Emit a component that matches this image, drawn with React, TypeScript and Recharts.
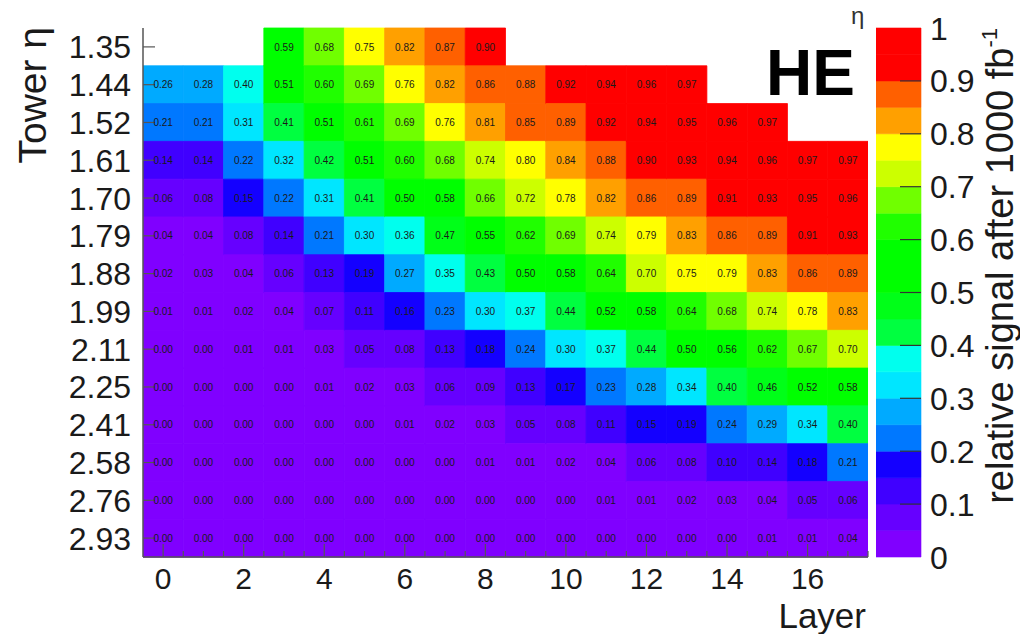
import { Bar, BarChart, Cell, LabelList, XAxis, YAxis } from "recharts";

// tower eta rows, top to bottom
const towerEta = ["1.35", "1.44", "1.52", "1.61", "1.70", "1.79", "1.88", "1.99", "2.11", "2.25", "2.41", "2.58", "2.76", "2.93"];
const layers = [0, 1, 2, 3, 4, 5, 6, 7, 8, 9, 10, 11, 12, 13, 14, 15, 16, 17];
const layerLabels = [0, 2, 4, 6, 8, 10, 12, 14, 16];

// relative signal per tower (row) and layer (column); null = no cell
const signal: (number | null)[][] = [
  [null, null, null, 0.59, 0.68, 0.75, 0.82, 0.87, 0.9, null, null, null, null, null, null, null, null, null],
  [0.26, 0.28, 0.398, 0.51, 0.6, 0.69, 0.76, 0.82, 0.86, 0.88, 0.92, 0.94, 0.96, 0.97, null, null, null, null],
  [0.21, 0.21, 0.31, 0.41, 0.51, 0.61, 0.69, 0.76, 0.81, 0.85, 0.89, 0.92, 0.94, 0.95, 0.96, 0.97, null, null],
  [0.14, 0.14, 0.22, 0.32, 0.42, 0.51, 0.6, 0.68, 0.74, 0.798, 0.84, 0.88, 0.9, 0.93, 0.94, 0.96, 0.97, 0.97],
  [0.06, 0.08, 0.15, 0.22, 0.31, 0.41, 0.5, 0.58, 0.66, 0.72, 0.78, 0.82, 0.86, 0.89, 0.91, 0.93, 0.95, 0.96],
  [0.04, 0.04, 0.08, 0.14, 0.21, 0.3, 0.36, 0.47, 0.55, 0.62, 0.69, 0.74, 0.79, 0.83, 0.86, 0.89, 0.91, 0.93],
  [0.02, 0.03, 0.04, 0.06, 0.13, 0.19, 0.27, 0.35, 0.43, 0.5, 0.58, 0.64, 0.7, 0.75, 0.79, 0.83, 0.86, 0.89],
  [0.01, 0.01, 0.02, 0.04, 0.07, 0.11, 0.16, 0.23, 0.3, 0.37, 0.44, 0.52, 0.58, 0.64, 0.68, 0.74, 0.78, 0.83],
  [0, 0, 0.01, 0.01, 0.03, 0.05, 0.08, 0.13, 0.18, 0.24, 0.3, 0.37, 0.44, 0.5, 0.56, 0.62, 0.67, 0.7],
  [0, 0, 0, 0, 0.01, 0.02, 0.03, 0.06, 0.09, 0.13, 0.17, 0.23, 0.28, 0.34, 0.402, 0.46, 0.52, 0.58],
  [0, 0, 0, 0, 0, 0, 0.01, 0.02, 0.03, 0.05, 0.08, 0.11, 0.15, 0.19, 0.24, 0.29, 0.34, 0.402],
  [0, 0, 0, 0, 0, 0, 0, 0, 0.01, 0.01, 0.02, 0.04, 0.06, 0.08, 0.1, 0.14, 0.18, 0.21],
  [0, 0, 0, 0, 0, 0, 0, 0, 0, 0, 0, 0.01, 0.01, 0.02, 0.03, 0.04, 0.05, 0.06],
  [0, 0, 0, 0, 0, 0, 0, 0, 0, 0, 0, 0, 0, 0, 0, 0.01, 0.01, 0.04],
];

// colour palette, one colour per 0.05 band from 0 to 1
const bandColors = [
  "#8000ff", "#6600ff", "#4000ff", "#1400ff", "#0078ff",
  "#00aaff", "#00e6ff", "#00ffee", "#00ff40", "#00ff18",
  "#00ff00", "#00ff00", "#20ff00", "#70ff00", "#ccff00",
  "#ffff00", "#ffa000", "#ff6000", "#ff0000", "#ff0000",
];
const bandWidth = 0.05;
const zTicks = [0, 0.1, 0.2, 0.3, 0.4, 0.5, 0.6, 0.7, 0.8, 0.9, 1];

const font = '"Liberation Sans", Arial, Helvetica, sans-serif';
const frame = "#555";

const colorFor = (v: number) =>
  bandColors[Math.min(bandColors.length - 1, Math.floor(v / bandWidth + 1e-6))];

// each cell spans one layer; bars are stacked so the x scale places them
const rows = towerEta.map((eta, i) => {
  const r: Record<string, any> = { eta };
  layers.forEach((l, j) => {
    r[`s${j}`] = 1;
    r[`v${j}`] = signal[i][j];
  });
  return r;
});

// x value of layer l centre is l + 0.5; ticks every half layer
const xTicks: number[] = [];
layers.forEach((l) => {
  xTicks.push(l + 0.5);
  xTicks.push(l + 1);
});

const isMajor = (v: number) => layerLabels.includes(v - 0.5);

const BottomTick = (props: any) => {
  const { x, y, payload } = props;
  const major = isMajor(payload.value);
  return (
    <g>
      <line x1={x} x2={x} y1={y} y2={y - (major ? 13 : 6)} stroke={frame} strokeWidth={1.2} />
      {major && (
        <text x={x} y={y + 32} textAnchor="middle" fontSize={30} fill="#1a1a1a">
          {payload.value - 0.5}
        </text>
      )}
    </g>
  );
};

const TopTick = (props: any) => {
  const { x, y, payload } = props;
  const major = isMajor(payload.value);
  return <line x1={x} x2={x} y1={y} y2={y + (major ? 13 : 6)} stroke={frame} strokeWidth={1.2} />;
};

const LeftTick = (props: any) => {
  const { x, y, payload } = props;
  return (
    <g>
      <line x1={x + 12} x2={x + 24} y1={y} y2={y} stroke={frame} strokeWidth={1.2} />
      <text x={x} y={y} dy="0.36em" textAnchor="end" fontSize={32} fill="#1a1a1a">
        {payload.value}
      </text>
    </g>
  );
};

const RightTick = (props: any) => {
  const { x, y } = props;
  return <line x1={x} x2={x - 12} y1={y} y2={y} stroke={frame} strokeWidth={1.2} />;
};

const CellLabel = (props: any) => {
  const { x, y, width, height, value } = props;
  if (value === null || value === undefined) return null;
  return (
    <text
      x={x + width / 2}
      y={y + height / 2}
      dy="0.35em"
      textAnchor="middle"
      fontSize={10}
      fill="#1a1a1a"
    >
      {Number(value).toFixed(2)}
    </text>
  );
};

const zRow = [
  bandColors.reduce((acc: Record<string, any>, c, k) => {
    acc[`b${k}`] = bandWidth;
    return acc;
  }, { name: "z" }),
];

const ZTick = (props: any) => {
  const { x, y, payload } = props;
  const v = payload.value;
  const label = v === 0 ? "0" : v === 1 ? "1" : v.toFixed(1);
  return (
    <g>
      {v > 0 && v < 1 && (
        <line x1={x - 9} x2={x - 30} y1={y} y2={y} stroke="#333" strokeWidth={1.2} />
      )}
      <text x={x} y={y} dy="0.36em" textAnchor="start" fontSize={32} fill="#1a1a1a">
        {label}
      </text>
    </g>
  );
};

export default function App() {
  return (
    <div
      style={{
        position: "absolute",
        left: 0,
        top: 0,
        width: 1020,
        height: 634,
        background: "#fff",
        fontFamily: font,
      }}
    >
      <div style={{ position: "absolute", left: 0, top: 0 }}>
        <BarChart
          width={1020}
          height={634}
          data={rows}
          layout="vertical"
          margin={{ top: 28, right: 152, bottom: 17, left: 0 }}
          barCategoryGap={0}
          barGap={0}
        >
          <XAxis
            type="number"
            domain={[0, 18]}
            ticks={xTicks}
            interval={0}
            height={60}
            tickSize={0}
            tickMargin={0}
            tickLine={false}
            axisLine={{ stroke: frame, strokeWidth: 1.5 }}
            tick={BottomTick}
            allowDataOverflow
          />
          <XAxis
            xAxisId="top"
            orientation="top"
            type="number"
            domain={[0, 18]}
            ticks={xTicks}
            interval={0}
            height={0}
            tickSize={0}
            tickMargin={0}
            tickLine={false}
            axisLine={{ stroke: frame, strokeWidth: 1.5 }}
            tick={TopTick}
            allowDataOverflow
          />
          <YAxis
            type="category"
            dataKey="eta"
            width={143}
            interval={0}
            tickSize={0}
            tickMargin={12}
            tickLine={false}
            axisLine={{ stroke: frame, strokeWidth: 1.5 }}
            tick={LeftTick}
          />
          <YAxis
            yAxisId="right"
            orientation="right"
            type="category"
            dataKey="eta"
            width={0}
            interval={0}
            tickSize={0}
            tickMargin={0}
            tickLine={false}
            axisLine={{ stroke: frame, strokeWidth: 1.5 }}
            tick={RightTick}
          />
          {layers.map((l, j) => (
            <Bar key={l} dataKey={`s${j}`} stackId="cells" isAnimationActive={false}>
              {rows.map((r, i) => {
                const v = signal[i][j];
                const c = v === null ? "none" : colorFor(v);
                return <Cell key={r.eta} fill={c} stroke={c} strokeWidth={0.8} />;
              })}
              <LabelList dataKey={`v${j}`} content={CellLabel} />
            </Bar>
          ))}
        </BarChart>
      </div>

      <div style={{ position: "absolute", left: 876, top: 0 }}>
        <BarChart
          width={144}
          height={634}
          data={zRow}
          margin={{ top: 28, right: 0, bottom: 77, left: 0 }}
          barCategoryGap={0}
        >
          <XAxis dataKey="name" hide />
          <YAxis
            orientation="right"
            type="number"
            domain={[0, 1]}
            ticks={zTicks}
            interval={0}
            width={99}
            tickSize={0}
            tickMargin={9}
            tickLine={false}
            axisLine={false}
            tick={ZTick}
          />
          {bandColors.map((c, k) => (
            <Bar
              key={k}
              dataKey={`b${k}`}
              stackId="z"
              fill={c}
              stroke={c}
              strokeWidth={0.6}
              isAnimationActive={false}
            />
          ))}
        </BarChart>
      </div>

      <svg
        width={1020}
        height={634}
        style={{ position: "absolute", left: 0, top: 0, pointerEvents: "none" }}
      >
        <text x={766} y={95} fontSize={64} fontWeight="bold" fill="#000">
          HE
        </text>
        <text x={851} y={24} fontSize={24} fill="#333">
          η
        </text>
        <text
          transform="rotate(-90 46 27)"
          x={46}
          y={27}
          textAnchor="end"
          fontSize={39}
          fill="#1a1a1a"
        >
          Tower η
        </text>
        <text x={866} y={628} textAnchor="end" fontSize={35} fill="#1a1a1a">
          Layer
        </text>
        <text
          transform="rotate(-90 1013 28)"
          x={1013}
          y={28}
          textAnchor="end"
          fontSize={38}
          fill="#1a1a1a"
        >
          relative signal after 1000 fb
          <tspan fontSize={22} dy={-16}>
            -1
          </tspan>
        </text>
      </svg>
    </div>
  );
}
